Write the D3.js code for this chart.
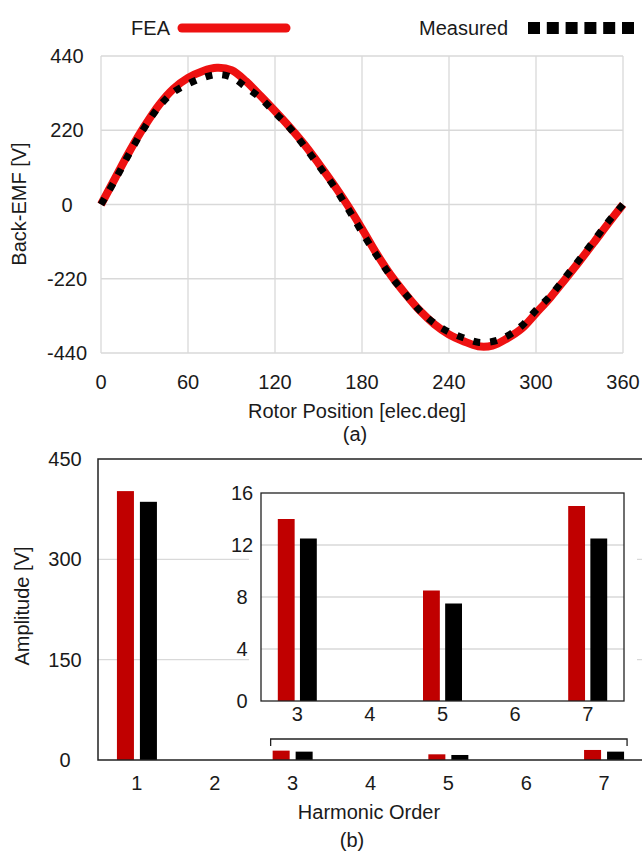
<!DOCTYPE html>
<html>
<head>
<meta charset="utf-8">
<script src="https://cdn.jsdelivr.net/npm/d3@7"></script>
<style>
  body { margin: 0; background: #fff; }
  text { font-family: "Liberation Sans", Arial, sans-serif; fill: #1a1a1a; font-size: 20px; }
</style>
</head>
<body>
<svg id="chart" width="642" height="851"></svg>
<script>
// Back-EMF waveform (a)
const angles = [0, 10, 20, 30, 40, 50, 60, 70, 80, 90, 100, 110, 120, 130, 140, 150, 160, 170, 180,
    190, 200, 210, 220, 230, 240, 250, 260, 270, 280, 290, 300, 310, 320, 330, 340, 350, 360];
const feaEmf = [0, 80, 160, 232, 295, 343, 375, 395, 405, 398, 365, 322, 277, 230, 179, 122, 62, -2, -72,
    -145, -210, -265, -315, -355, -385, -405, -420, -418, -397, -368, -322, -275, -222, -168, -112, -55, 0];
const measuredEmf = [0, 75, 155, 228, 290, 333, 357, 375, 385, 377, 348, 315, 272, 228, 174, 116, 58, -10, -82,
    -150, -213, -265, -315, -352, -378, -395, -408, -406, -390, -360, -313, -270, -217, -163, -107, -50, 0];
const angleTicks = [0, 60, 120, 180, 240, 300, 360];
const emfTicks = [-440, -220, 0, 220, 440];

// Harmonic amplitudes (b)
const harmonics = ["1", "2", "3", "4", "5", "6", "7"];
const feaAmp = [402, 0, 14, 0, 8.5, 0, 15];
const measuredAmp = [386, 0, 12.5, 0, 7.5, 0, 12.5];
const ampTicks = [0, 150, 300, 450];
const insetHarmonics = ["3", "4", "5", "6", "7"];
const insetTicks = [0, 4, 8, 12, 16];
const seriesNames = ["FEA", "Measured"];

const red = "#ee1111";
const barRed = "#c00000";
const grid = "#d9d9d9";
const frame = "#222";

const svg = d3.select("#chart");

// ---------- top chart ----------
let x = d3.scaleLinear().domain([0, 360]).range([101, 623]);
let y = d3.scaleLinear().domain([-440, 440]).range([353, 56]);

let emfChart = svg.append("g");

emfChart.selectAll(".vgrid")
    .data(angleTicks)
    .enter().append("line")
    .attr("x1", d => x(d)).attr("x2", d => x(d))
    .attr("y1", y(440)).attr("y2", y(-440))
    .style("stroke", grid).style("stroke-width", 1.3);

emfChart.selectAll(".hgrid")
    .data(emfTicks)
    .enter().append("line")
    .attr("x1", x(0)).attr("x2", x(360))
    .attr("y1", d => y(d)).attr("y2", d => y(d))
    .style("stroke", grid).style("stroke-width", 1.3);

emfChart.selectAll(".ylab")
    .data(emfTicks)
    .enter().append("text")
    .attr("x", 67).attr("y", d => y(d))
    .attr("dy", "0.35em")
    .attr("text-anchor", "middle")
    .text(d => d);

emfChart.selectAll(".xlab")
    .data(angleTicks)
    .enter().append("text")
    .attr("x", d => x(d)).attr("y", 382)
    .attr("dy", "0.35em")
    .attr("text-anchor", "middle")
    .text(d => d);

let emfLine = d3.line()
    .x((d, i) => x(angles[i]))
    .y(d => y(d))
    .curve(d3.curveCatmullRom.alpha(0.5));

emfChart.append("path")
    .datum(feaEmf)
    .attr("d", emfLine)
    .style("fill", "none")
    .style("stroke", red)
    .style("stroke-width", 8);

emfChart.append("path")
    .datum(measuredEmf)
    .attr("d", emfLine)
    .style("fill", "none")
    .style("stroke", "#000")
    .style("stroke-width", 7)
    .style("stroke-dasharray", "7,10");

emfChart.append("text")
    .attr("x", 357).attr("y", 411).attr("dy", "0.35em")
    .attr("text-anchor", "middle")
    .text("Rotor Position [elec.deg]");

emfChart.append("text")
    .attr("x", 355).attr("y", 434).attr("dy", "0.35em")
    .attr("text-anchor", "middle")
    .text("(a)");

emfChart.append("text")
    .attr("transform", "translate(19,204) rotate(-90)")
    .attr("dy", "0.35em")
    .attr("text-anchor", "middle")
    .text("Back-EMF [V]");

// legend
let legend = svg.append("g");
legend.append("text")
    .attr("x", 170).attr("y", 28).attr("dy", "0.35em")
    .attr("text-anchor", "end")
    .text(seriesNames[0]);
legend.append("line")
    .attr("x1", 182).attr("x2", 286).attr("y1", 28).attr("y2", 28)
    .style("stroke", red).style("stroke-width", 9)
    .style("stroke-linecap", "round");
legend.append("text")
    .attr("x", 508).attr("y", 28).attr("dy", "0.35em")
    .attr("text-anchor", "end")
    .text(seriesNames[1]);
legend.append("line")
    .attr("x1", 528).attr("x2", 634).attr("y1", 28).attr("y2", 28)
    .style("stroke", "#000").style("stroke-width", 12)
    .style("stroke-dasharray", "12,6.8");

// ---------- bottom chart ----------
let xb = d3.scaleBand().domain(harmonics).range([98, 643]);
let yb = d3.scaleLinear().domain([0, 450]).range([760, 459]);
let xs = d3.scaleBand().domain(seriesNames).range([-20, 20]).paddingInner(0.26);

let ampChart = svg.append("g");

ampChart.selectAll(".bgrid")
    .data(ampTicks.slice(1, 3))
    .enter().append("line")
    .attr("x1", 98).attr("x2", 642)
    .attr("y1", d => yb(d)).attr("y2", d => yb(d))
    .style("stroke", grid).style("stroke-width", 1.3);

ampChart.selectAll(".blab")
    .data(ampTicks)
    .enter().append("text")
    .attr("x", 65).attr("y", d => yb(d))
    .attr("dy", "0.35em")
    .attr("text-anchor", "middle")
    .text(d => d);

ampChart.selectAll(".bxlab")
    .data(harmonics)
    .enter().append("text")
    .attr("x", d => xb(d) + xb.bandwidth() / 2).attr("y", 783)
    .attr("dy", "0.35em")
    .attr("text-anchor", "middle")
    .text(d => d);

let groups = [feaAmp, measuredAmp];
let colors = [barRed, "#000"];

groups.forEach(function(vals, k) {
    ampChart.selectAll(".bar" + k)
        .data(vals)
        .enter().append("rect")
        .attr("x", (d, i) => xb(harmonics[i]) + xb.bandwidth() / 2 + xs(seriesNames[k]))
        .attr("width", xs.bandwidth())
        .attr("y", d => yb(d))
        .attr("height", d => yb(0) - yb(d))
        .style("fill", colors[k]);
});

// frame of main plot (left, top, bottom; right edge cut off)
ampChart.append("path")
    .attr("d", "M642," + yb(450) + "H98V" + yb(0) + "H642")
    .style("fill", "none").style("stroke", frame).style("stroke-width", 1.5);

// bracket over harmonics 3..7
let bx0 = xb("3") + xb.bandwidth() / 2 - 22;
let bx1 = xb("7") + xb.bandwidth() / 2 + 23;
ampChart.append("path")
    .attr("d", "M" + bx0 + ",746V739H" + bx1 + "V746")
    .style("fill", "none").style("stroke", frame).style("stroke-width", 1.3);

ampChart.append("text")
    .attr("x", 369).attr("y", 812).attr("dy", "0.35em")
    .attr("text-anchor", "middle")
    .text("Harmonic Order");

ampChart.append("text")
    .attr("x", 352).attr("y", 840).attr("dy", "0.35em")
    .attr("text-anchor", "middle")
    .text("(b)");

ampChart.append("text")
    .attr("transform", "translate(22,606) rotate(-90)")
    .attr("dy", "0.35em")
    .attr("text-anchor", "middle")
    .text("Amplitude [V]");

// ---------- inset ----------
let xi = d3.scaleBand().domain(insetHarmonics).range([261, 624]);
let yi = d3.scaleLinear().domain([0, 16]).range([701, 493]);
let xsi = d3.scaleBand().domain(seriesNames).range([-19.5, 19.5]).paddingInner(0.24);

let inset = svg.append("g");

inset.append("rect")
    .attr("x", 249).attr("y", 478)
    .attr("width", 388).attr("height", 248)
    .style("fill", "#fff");

inset.selectAll(".igrid")
    .data(insetTicks.slice(1, 4))
    .enter().append("line")
    .attr("x1", xi.range()[0]).attr("x2", xi.range()[1])
    .attr("y1", d => yi(d)).attr("y2", d => yi(d))
    .style("stroke", grid).style("stroke-width", 1.3);

inset.selectAll(".ilab")
    .data(insetTicks)
    .enter().append("text")
    .attr("x", 242).attr("y", d => yi(d))
    .attr("dy", "0.35em")
    .attr("text-anchor", "middle")
    .text(d => d);

inset.selectAll(".ixlab")
    .data(insetHarmonics)
    .enter().append("text")
    .attr("x", d => xi(d) + xi.bandwidth() / 2).attr("y", 714)
    .attr("dy", "0.35em")
    .attr("text-anchor", "middle")
    .text(d => d);

groups.forEach(function(vals, k) {
    let sub = vals.slice(2);
    inset.selectAll(".ibar" + k)
        .data(sub)
        .enter().append("rect")
        .attr("x", (d, i) => xi(insetHarmonics[i]) + xi.bandwidth() / 2 + xsi(seriesNames[k]))
        .attr("width", xsi.bandwidth())
        .attr("y", d => yi(d))
        .attr("height", d => yi(0) - yi(d))
        .style("fill", colors[k]);
});

inset.append("rect")
    .attr("x", 261).attr("y", yi(16))
    .attr("width", 624 - 261).attr("height", yi(0) - yi(16))
    .style("fill", "none").style("stroke", frame).style("stroke-width", 1.3);
</script>
</body>
</html>
